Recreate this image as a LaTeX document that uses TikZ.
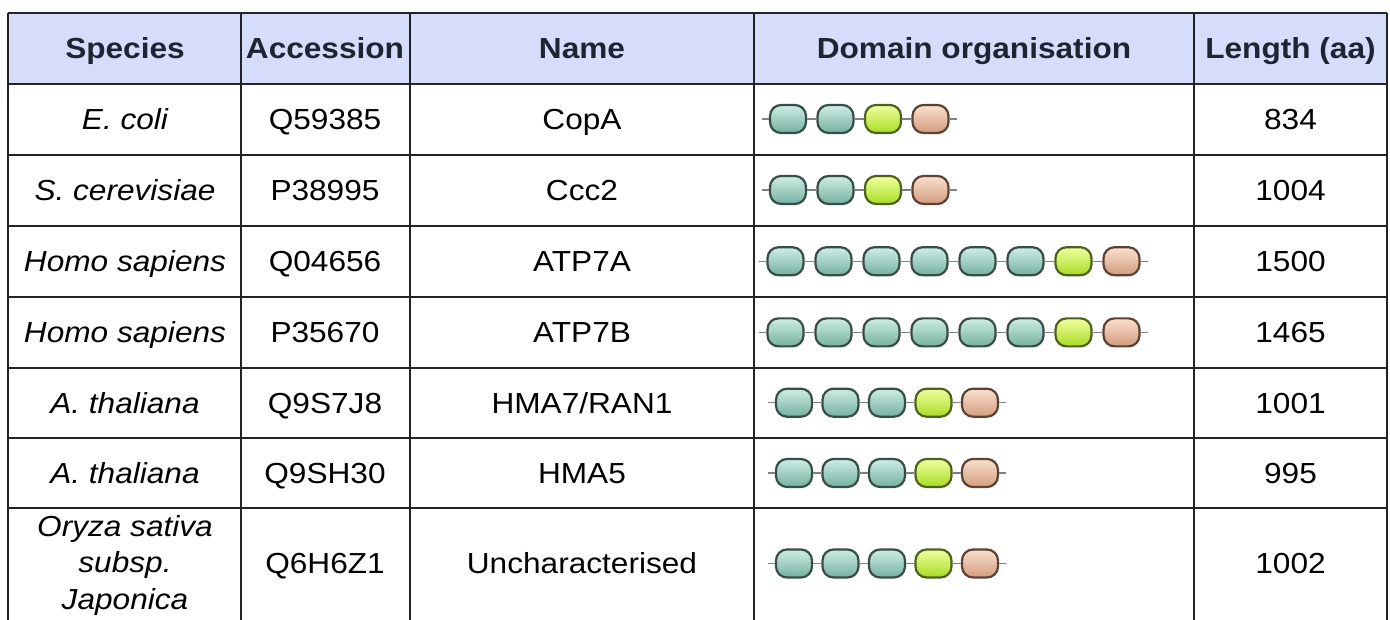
\documentclass[tikz,border=0pt]{standalone}
\usepackage{fontspec}
\setmainfont[FakeStretch=1.09]{Liberation Sans}
\usepackage{tikz}
\usetikzlibrary{positioning}
\definecolor{headblue}{RGB}{213,221,251}
\definecolor{headtext}{RGB}{28,38,50}
\definecolor{gridline}{RGB}{35,35,35}
\definecolor{tealtop}{RGB}{205,238,228}
\definecolor{tealbot}{RGB}{118,176,160}
\definecolor{tealedge}{RGB}{55,78,72}
\definecolor{limetop}{RGB}{240,255,160}
\definecolor{limebot}{RGB}{168,220,36}
\definecolor{limeedge}{RGB}{78,98,30}
\definecolor{peachtop}{RGB}{250,224,206}
\definecolor{peachbot}{RGB}{210,156,126}
\definecolor{peachedge}{RGB}{92,66,52}
\definecolor{linkgray}{RGB}{128,128,128}
\tikzset{
    mygrid/.style={draw=gridline,line width=2pt},
    myhead/.style={font=\fontsize{29}{36.5}\selectfont\bfseries,text=headtext,inner sep=0pt,text height=20.8pt,text depth=0pt},
    mycell/.style={font=\fontsize{29}{36.5}\selectfont,text=black,inner sep=0pt,text height=20.8pt,text depth=0pt},
    myspecies/.style={mycell,font=\fontsize{29}{36.5}\selectfont\itshape},
    mydom/.style={rectangle,rounded corners=11pt,minimum width=36pt,minimum height=28pt,inner sep=0pt,line width=2.2pt},
    myteal/.style={mydom,draw=tealedge,top color=tealtop,bottom color=tealbot},
    mylime/.style={mydom,draw=limeedge,top color=limetop,bottom color=limebot},
    mypeach/.style={mydom,draw=peachedge,top color=peachtop,bottom color=peachbot},
    mylink/.style={draw=linkgray,line width=1.5pt}
}

\begin{document}
\begin{tikzpicture}[x=1pt,y=-1pt]
    \useasboundingbox (0,0) rectangle (1390,619);
    \clip (0,0) rectangle (1390,619);

    % 表头
    \fill[headblue] (7.5,13) rectangle (1387,83.5);
    \node[myhead] (hSpecies) at (125,48.25) {Species};
    \node[myhead] (hAccession) at (325,48.25) {Accession};
    \node[myhead] (hName) at (582,48.25) {Name};
    \node[myhead] (hDomain) at (974,48.25) {Domain organisation};
    \node[myhead] (hLength) at (1290.5,48.25) {Length (aa)};

    % 网格线
    \foreach \yy in {13,83.5,154.5,225.5,297,367.7,437.7,508.3}
        \draw[mygrid] (7.5,\yy) -- (1387,\yy);
    \foreach \xx in {7.5,241,410,754,1194,1387}
        \draw[mygrid] (\xx,13) -- (\xx,640);

    % 各行文字
    \foreach \sp/\acc/\nm/\len/\yc [count=\i] in {
        {E. coli}/Q59385/CopA/834/119,
        {S. cerevisiae}/P38995/Ccc2/1004/190,
        {Homo sapiens}/Q04656/ATP7A/1500/261.25,
        {Homo sapiens}/P35670/ATP7B/1465/332.35,
        {A. thaliana}/Q9S7J8/{HMA7/RAN1}/1001/402.7,
        {A. thaliana}/Q9SH30/HMA5/995/473}
    {
        \node[myspecies] (sp\i) at (125,\yc) {\sp};
        \node[mycell] (acc\i) at (325,\yc) {\acc};
        \node[mycell] (nm\i) at (582,\yc) {\nm};
        \node[mycell] (len\i) at (1290.5,\yc) {\len};
    }
    \node[font=\fontsize{29}{36.5}\selectfont\itshape,align=center,inner sep=0pt]
        (sp7) at (125,565) {Oryza sativa\\subsp.\\Japonica};
    \node[mycell] (acc7) at (325,563.5) {Q6H6Z1};
    \node[mycell] (nm7) at (582,563.5) {Uncharacterised};
    \node[mycell] (len7) at (1290.5,563.5) {1002};

    % 结构域
    \foreach \r/\yc/\xs/\dx/\n/\types in {
        1/119/788/47.5/4/{teal,teal,lime,peach},
        2/190/788/47.5/4/{teal,teal,lime,peach},
        3/261.25/785.5/48/8/{teal,teal,teal,teal,teal,teal,lime,peach},
        4/332.35/785.5/48/8/{teal,teal,teal,teal,teal,teal,lime,peach},
        5/402.7/794/46.5/5/{teal,teal,teal,lime,peach},
        6/473/794/46.5/5/{teal,teal,teal,lime,peach},
        7/563.5/794/46.5/5/{teal,teal,teal,lime,peach}}
    {
        \foreach \ty [count=\k] in \types {
            \node[my\ty] (d\r-\k) at ({\xs+\dx*(\k-1)},\yc) {};
            \ifnum\k>1
                \pgfmathtruncatemacro\kp{\k-1}
                \draw[mylink] (d\r-\kp.east) -- (d\r-\k.west);
            \fi
        }
        \coordinate[left=7pt of d\r-1.west] (s\r);
        \coordinate[right=7pt of d\r-\n.east] (e\r);
        \draw[mylink] (s\r) -- (d\r-1.west);
        \draw[mylink] (d\r-\n.east) -- (e\r);
    }
\end{tikzpicture}
\end{document}
